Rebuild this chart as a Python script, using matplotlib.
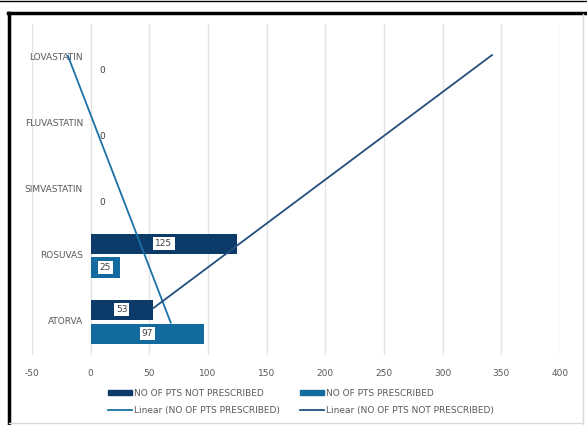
import numpy as np
import matplotlib.pyplot as plt
from matplotlib.lines import Line2D
from matplotlib.patches import Patch

plt.rcParams['axes.unicode_minus'] = False

# statin prescription data (bottom to top, as in the chart)
drugs = ['ATORVA', 'ROSUVAS', 'SIMVASTATIN', 'FLUVASTATIN', 'LOVASTATIN']
not_prescribed = [53, 125, 0, 0, 0]
prescribed = [97, 25, 0, 0, 0]

# trendline end values (at ATORVA and at LOVASTATIN)
trend_prescribed = [68.2, -19.4]
trend_not_prescribed = [52.8, 342.0]

dark = '#0d3b69'
light = '#136a9e'
trend_light = '#1b72a6'
trend_dark = '#234f7c'
txt = '#595959'

fig = plt.figure(figsize=(5.87, 4.25), dpi=100)
ax = fig.add_axes([32 / 587, 70 / 425, 528 / 587, 331 / 425])

y = np.arange(len(drugs))
off = 0.18
h = 0.31

ax.barh(y + off, not_prescribed, height=h, color=dark, zorder=2)
ax.barh(y - off, prescribed, height=h, color=light, zorder=2)

# category labels sit inside the plot, left of zero
for i, d in enumerate(drugs):
    ax.text(-6.5, y[i], d, ha='right', va='center', fontsize=6.5, color=txt)

# data labels
for i in range(len(drugs)):
    for vals, yy in ((not_prescribed, y[i] + off), (prescribed, y[i] - off)):
        v = vals[i]
        if v > 0:
            ax.text(v / 2, yy, str(v), ha='center', va='center', fontsize=6.5,
                    color='#404040', zorder=4,
                    bbox=dict(facecolor='white', edgecolor='none', pad=1.4))
    if not_prescribed[i] == 0 and prescribed[i] == 0:
        ax.text(7, y[i] - 0.2, '0', ha='left', va='center', fontsize=6.5,
                color='#404040', zorder=4)

# linear trendlines
ax.plot(trend_prescribed, [y[0] - 0.01, y[-1] + 0.02], color=trend_light, lw=1.3, zorder=3)
ax.plot(trend_not_prescribed, [y[0] + 0.2, y[-1] + 0.03], color=trend_dark, lw=1.3, zorder=3)

ax.set_xlim(-50, 400)
ax.set_ylim(-0.5, 4.5)
ax.set_xticks(np.arange(-50, 401, 50))
ax.set_yticks([])
ax.grid(axis='x', color='#e3e3e3', lw=1, zorder=0)
ax.tick_params(length=0, labelsize=6.5, labelcolor=txt)
ax.tick_params(axis='x', pad=10)
for s in ax.spines.values():
    s.set_visible(False)

handles = [Patch(color=dark), Line2D([], [], color=trend_light, lw=1.3),
           Patch(color=light), Line2D([], [], color=trend_dark, lw=1.3)]
labels = ['NO OF PTS NOT PRESCRIBED', 'Linear (NO OF PTS PRESCRIBED)',
          'NO OF PTS PRESCRIBED', 'Linear (NO OF PTS NOT PRESCRIBED)']
fig.legend(handles, labels, ncol=2, loc='upper left', bbox_to_anchor=(100 / 587, 1 - 381 / 425),
           frameon=False, fontsize=6.5, labelcolor=txt, handlelength=2.6, handleheight=0.5,
           handletextpad=0.3, columnspacing=2.2, labelspacing=0.9)

# outer frame
fig.add_artist(Line2D([8 / 587, 1], [1 - 13 / 425] * 2, color='black', lw=2.5))
fig.add_artist(Line2D([9 / 587] * 2, [0, 1 - 13 / 425], color='black', lw=2.5))
fig.add_artist(Line2D([0, 1], [1 - 0.5 / 425] * 2, color='black', lw=1))
fig.add_artist(Line2D([583 / 587] * 2, [0, 1 - 14 / 425], color='#d9d9d9', lw=1))
fig.add_artist(Line2D([9 / 587, 583 / 587], [2 / 425] * 2, color='#d9d9d9', lw=1))

fig.savefig('out.png', dpi=100)
